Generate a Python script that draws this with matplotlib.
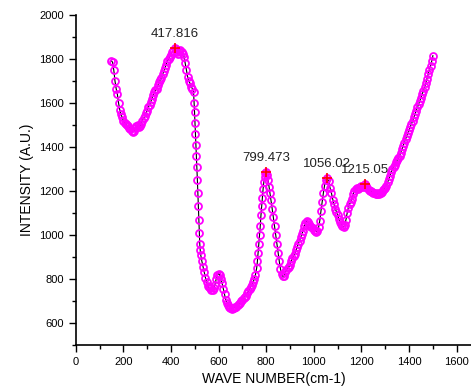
import numpy as np
import matplotlib
matplotlib.use('Agg')
import matplotlib.pyplot as plt
from matplotlib.ticker import MultipleLocator

plt.rcParams['font.family'] = ['Liberation Sans', 'DejaVu Sans']

# spectrum (wave number, intensity)
wavenumber = [150, 155, 160, 165, 170, 175, 180, 185, 190, 195, 200, 205, 210, 215, 220, 225, 230, 235, 240, 245,
              250, 255, 260, 265, 270, 275, 280, 285, 290, 295, 300, 305, 310, 315, 320, 325, 330, 335, 340, 345,
              350, 355, 360, 365, 370, 375, 380, 385, 390, 395, 400, 405, 410, 415, 420, 425, 430, 435, 440, 445,
              450, 455, 460, 465, 470, 475, 480, 485, 490, 495, 497, 499, 501, 503, 505, 507, 509, 511, 513, 515,
              517, 519, 521, 523, 525, 530, 535, 540, 545, 550, 555, 560, 565, 570, 575, 580, 585, 590, 595, 600,
              605, 610, 615, 620, 625, 630, 635, 640, 645, 650, 655, 660, 665, 670, 675, 680, 685, 690, 695, 700,
              705, 710, 715, 720, 725, 730, 735, 740, 745, 750, 755, 760, 763, 766, 769, 772, 775, 778, 781, 784,
              787, 790, 793, 796, 800, 804, 808, 812, 816, 820, 825, 830, 835, 840, 845, 850, 855, 860, 865, 870,
              875, 880, 885, 890, 895, 900, 905, 910, 915, 920, 925, 930, 935, 940, 945, 950, 955, 960, 965, 970,
              975, 980, 985, 990, 995, 1000, 1005, 1010, 1015, 1020, 1025, 1030, 1035, 1040, 1045, 1050, 1056, 1062, 1068, 1074,
              1080, 1085, 1090, 1095, 1100, 1105, 1110, 1115, 1120, 1125, 1130, 1135, 1140, 1145, 1150, 1155, 1160, 1165, 1170, 1175,
              1180, 1185, 1190, 1195, 1200, 1205, 1210, 1215, 1220, 1225, 1230, 1235, 1240, 1245, 1250, 1255, 1260, 1265, 1270, 1275,
              1280, 1285, 1290, 1295, 1300, 1305, 1310, 1315, 1320, 1325, 1330, 1335, 1340, 1345, 1350, 1355, 1360, 1365, 1370, 1375,
              1380, 1385, 1390, 1395, 1400, 1405, 1410, 1415, 1420, 1425, 1430, 1435, 1440, 1445, 1450, 1455, 1460, 1465, 1470, 1475,
              1480, 1485, 1490, 1495, 1500]
intensity = [1792, 1785, 1750, 1700, 1665, 1640, 1600, 1570, 1550, 1535, 1520, 1510, 1505, 1500, 1495, 1488, 1480, 1472, 1468, 1475,
             1485, 1495, 1498, 1492, 1495, 1505, 1520, 1530, 1540, 1555, 1565, 1580, 1592, 1605, 1620, 1635, 1648, 1658, 1665, 1680,
             1695, 1705, 1715, 1730, 1745, 1760, 1775, 1790, 1800, 1810, 1820, 1830, 1838, 1848, 1845, 1830, 1825, 1835, 1840, 1832,
             1825, 1810, 1780, 1750, 1720, 1700, 1690, 1675, 1665, 1652, 1600, 1560, 1510, 1460, 1410, 1360, 1310, 1250, 1190, 1130,
             1070, 1010, 960, 930, 910, 880, 855, 830, 805, 785, 770, 762, 758, 752, 750, 758, 775, 800, 818, 825,
             818, 800, 780, 755, 730, 705, 690, 680, 672, 668, 665, 668, 670, 672, 675, 680, 685, 692, 698, 705,
             712, 718, 725, 735, 745, 755, 765, 775, 785, 800, 820, 850, 880, 920, 960, 1000, 1040, 1090, 1130, 1170,
             1210, 1240, 1265, 1280, 1288, 1275, 1250, 1220, 1190, 1160, 1120, 1080, 1040, 1000, 960, 920, 880, 845, 825, 812,
             815, 830, 840, 850, 855, 865, 880, 895, 905, 915, 930, 945, 960, 975, 990, 1005, 1020, 1040, 1055, 1062,
             1060, 1050, 1040, 1035, 1030, 1025, 1020, 1015, 1018, 1035, 1065, 1110, 1150, 1190, 1225, 1250, 1258, 1245, 1215, 1190,
             1160, 1140, 1120, 1105, 1090, 1075, 1060, 1048, 1040, 1035, 1045, 1070, 1100, 1125, 1140, 1150, 1165, 1185, 1200, 1210,
             1212, 1210, 1215, 1220, 1222, 1220, 1225, 1232, 1225, 1215, 1205, 1200, 1198, 1195, 1192, 1190, 1188, 1185, 1190, 1188,
             1192, 1195, 1205, 1210, 1215, 1225, 1240, 1255, 1270, 1285, 1300, 1310, 1320, 1330, 1340, 1350, 1360, 1375, 1390, 1405,
             1420, 1435, 1450, 1465, 1478, 1490, 1505, 1520, 1535, 1550, 1565, 1580, 1595, 1610, 1625, 1640, 1655, 1672, 1690, 1710,
             1730, 1750, 1770, 1790, 1815]

# labelled peaks
peak_x = [417.816, 799.473, 1056.02, 1215.05]
peak_y = [1849, 1288, 1258, 1234]
peak_labels = ['417.816', '799.473', '1056.02', '1215.05']

fig = plt.figure(figsize=(4.71, 3.91), dpi=100)
ax = fig.add_axes([0.1607, 0.1176, 0.8393, 0.844])

ax.plot(wavenumber, intensity, color='black', lw=0.8, zorder=1)
ax.plot(wavenumber, intensity, ls='none', marker='o', ms=5, mfc='none',
        mec='#ff00ff', mew=1.3, zorder=2)
ax.plot(peak_x, peak_y, ls='none', marker='+', ms=7, mew=1.2, color='red', zorder=3)

for px, py, lab in zip(peak_x, peak_y, peak_labels):
    ax.annotate(lab, (px, py), xytext=(0, 14), textcoords='offset pixels',
                ha='center', va='center', fontsize=9.5, color='#222222')

ax.set_xlim(0, 1660)
ax.set_ylim(500, 2000)
ax.xaxis.set_major_locator(MultipleLocator(200))
ax.xaxis.set_minor_locator(MultipleLocator(100))
ax.yaxis.set_major_locator(MultipleLocator(200))
ax.yaxis.set_minor_locator(MultipleLocator(100))
ax.tick_params(which='major', direction='out', length=5, width=1, labelsize=8, colors='black')
ax.tick_params(which='minor', direction='out', length=3, width=1)
ax.spines['top'].set_visible(False)
ax.spines['right'].set_visible(False)
ax.spines['left'].set_linewidth(1.2)
ax.spines['bottom'].set_linewidth(1.2)

ax.set_xlabel('WAVE NUMBER(cm-1)', fontsize=10)
ax.set_ylabel('INTENSITY (A.U.)', fontsize=10)

fig.savefig('out.png', dpi=100)
